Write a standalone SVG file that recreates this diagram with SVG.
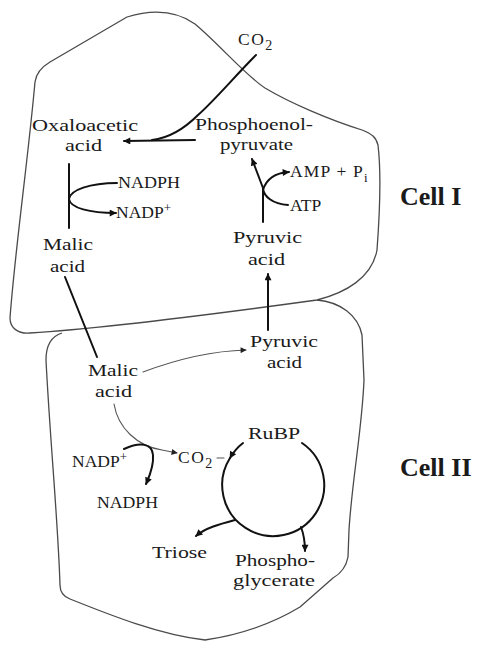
<svg xmlns="http://www.w3.org/2000/svg" width="493" height="651" viewBox="0 0 493 651">
<style>
  .t { font-family: "Liberation Serif", "Times New Roman", serif; font-size: 17.5px; fill: #1a1a1a; }
  .b { font-family: "Liberation Serif", "Times New Roman", serif; font-size: 26px; font-weight: bold; fill: #1a1a1a; }
  .cell { fill: none; stroke: #4a4a4a; stroke-width: 1.3; stroke-linejoin: round; }
  .ln { fill: none; stroke: #111; stroke-width: 2; stroke-linecap: round; }
  .thin { fill: none; stroke: #555; stroke-width: 1.1; stroke-linecap: round; }
</style>
<defs>
  <marker id="ah" viewBox="0 0 10 10" refX="9" refY="5" markerUnits="userSpaceOnUse" markerWidth="10" markerHeight="7" orient="auto">
    <path d="M0,0 L10,5 L0,10 Z" fill="#111"/>
  </marker>
  <marker id="ahs" viewBox="0 0 10 10" refX="9" refY="5" markerUnits="userSpaceOnUse" markerWidth="8" markerHeight="6" orient="auto">
    <path d="M0,0 L10,5 L0,10 Z" fill="#222"/>
  </marker>
</defs>
<rect width="493" height="651" fill="#fff"/>

<g id="cells">
  <path id="cell1" class="cell" d="M10,318 C10,328 18,334 30,333 C110,328 230,312 317,300 C345,293 372,278 377,250 C380,210 381,170 378,145 C376,137 372,134 362,130 C330,120 290,103 265,88 C245,75 220,45 195,24 C175,10 150,10 127,17 L50,62 C40,68 36,74 35,82 C28,160 15,250 10,318 Z"/>
  <path id="cell2" class="cell" d="M317,300 C340,302 358,315 362,335 L364,380 C362,430 352,480 349,530 L348,557 C346,568 340,574 333,578 L300,607 C270,625 240,635 205,640 C160,635 110,615 70,599 C62,596 60,590 60,585 C58,520 50,440 46,360 C46,345 52,336 62,333"/>
</g>

<g id="connectors">
  <path class="ln" d="M195,140 L124,141" marker-end="url(#ah)"/>
  <path class="ln" d="M256,55 C235,76 215,100 198,115 C185,128 170,138 152,140"/>
  <path class="ln" d="M69,164 L69,228"/>
  <path class="ln" d="M117,183 C90,183 70,190 69,199 C70,208 90,213 116,213" marker-end="url(#ah)"/>
  <path class="ln" d="M263,222 L263,188"/>
  <path class="ln" d="M263,188 L252,159" marker-end="url(#ah)"/>
  <path class="ln" d="M288,205 C272,204 264,196 263,189"/>
  <path class="ln" d="M263,190 C266,180 274,173 289,172" marker-end="url(#ah)"/>
  <path class="ln" d="M65,277 L97,357"/>
  <path class="ln" d="M268,330 L268,274" marker-end="url(#ah)"/>
  <path class="thin" d="M143,372 C175,360 210,351 246,350" marker-end="url(#ahs)"/>
  <path class="thin" d="M114,404 C118,428 137,446 162,450 L177,453" marker-end="url(#ahs)"/>
  <path class="ln" d="M124,449 C140,442 152,443 153,455 C154,467 149,477 146,484" marker-end="url(#ah)"/>
  <path class="thin" d="M217,458 L224,458"/>
  <path class="ln" d="M243,443 A51,51 0 0 0 230,458" marker-end="url(#ah)"/>
  <path class="ln" d="M230,458 A51,51 0 1 0 302,443"/>
  <path class="ln" d="M235,520 C220,524 205,528 196,536" marker-end="url(#ah)"/>
  <path class="ln" d="M301,527 C304,535 305,542 305,551" marker-end="url(#ah)"/>
</g>

<g id="n-co2-top"><text class="t" x="238" y="45" font-size="19" letter-spacing="1.5">CO<tspan font-size="14" dy="5">2</tspan></text></g>
<g id="n-oaa">
  <text class="t" x="32" y="131" textLength="106" lengthAdjust="spacingAndGlyphs">Oxaloacetic</text>
  <text class="t" x="65" y="151" textLength="37" lengthAdjust="spacingAndGlyphs">acid</text>
</g>
<g id="n-pep">
  <text class="t" x="195" y="130" textLength="118" lengthAdjust="spacingAndGlyphs">Phosphoenol-</text>
  <text class="t" x="220" y="150" textLength="73" lengthAdjust="spacingAndGlyphs">pyruvate</text>
</g>
<g id="n-nadph1"><text class="t" x="118" y="188" textLength="62" lengthAdjust="spacingAndGlyphs">NADPH</text></g>
<g id="n-nadp1"><text class="t" x="116" y="218" font-size="18">NADP<tspan font-size="13" dy="-6">+</tspan></text></g>
<g id="n-malic1">
  <text class="t" x="43" y="250" textLength="50" lengthAdjust="spacingAndGlyphs">Malic</text>
  <text class="t" x="50" y="272" textLength="35" lengthAdjust="spacingAndGlyphs">acid</text>
</g>
<g id="n-amp"><text class="t" x="290" y="177" font-size="18.5" letter-spacing="1.2">AMP + P<tspan font-size="13" dy="5">i</tspan></text></g>
<g id="n-atp"><text class="t" x="290" y="211" font-size="18.5">ATP</text></g>
<g id="n-pyr1">
  <text class="t" x="233" y="243" textLength="69" lengthAdjust="spacingAndGlyphs">Pyruvic</text>
  <text class="t" x="248" y="265" textLength="37" lengthAdjust="spacingAndGlyphs">acid</text>
</g>
<g id="n-cell1"><text class="b" x="400" y="205">Cell I</text></g>

<g id="n-pyr2">
  <text class="t" x="250" y="347" textLength="68" lengthAdjust="spacingAndGlyphs">Pyruvic</text>
  <text class="t" x="267" y="368" textLength="35" lengthAdjust="spacingAndGlyphs">acid</text>
</g>
<g id="n-malic2">
  <text class="t" x="88" y="376" textLength="50" lengthAdjust="spacingAndGlyphs">Malic</text>
  <text class="t" x="95" y="397" textLength="37" lengthAdjust="spacingAndGlyphs">acid</text>
</g>
<g id="n-nadp2"><text class="t" x="72" y="467" font-size="18">NADP<tspan font-size="13" dy="-6">+</tspan></text></g>
<g id="n-nadph2"><text class="t" x="97" y="508" textLength="61" lengthAdjust="spacingAndGlyphs">NADPH</text></g>
<g id="n-co2-2"><text class="t" x="178" y="463" font-size="19" letter-spacing="1.5">CO<tspan font-size="14" dy="5">2</tspan></text></g>
<g id="n-rubp"><text class="t" x="248" y="439" textLength="52" lengthAdjust="spacingAndGlyphs">RuBP</text></g>
<g id="n-triose"><text class="t" x="152" y="558" textLength="55" lengthAdjust="spacingAndGlyphs">Triose</text></g>
<g id="n-pga">
  <text class="t" x="235" y="566" textLength="80" lengthAdjust="spacingAndGlyphs">Phospho-</text>
  <text class="t" x="233" y="586" textLength="82" lengthAdjust="spacingAndGlyphs">glycerate</text>
</g>
<g id="n-cell2"><text class="b" x="400" y="476">Cell II</text></g>
</svg>
